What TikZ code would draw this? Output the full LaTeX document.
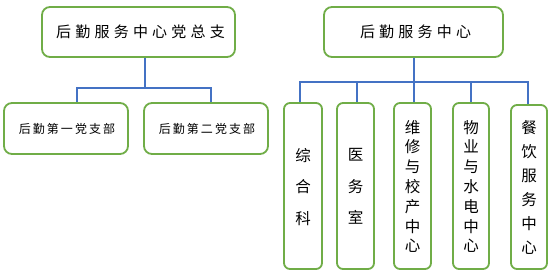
\documentclass[tikz,border=0pt]{standalone}
\usepackage{fontspec}
\newfontfamily\cjk{Noto Sans CJK SC}
\newfontfamily\cjkw[LetterSpace=28]{Noto Sans CJK SC}
\newfontfamily\cjkm[LetterSpace=17]{Noto Sans CJK SC}
\definecolor{boxgreen}{RGB}{112,173,71}
\definecolor{busblue}{RGB}{68,114,196}
\begin{document}
\begin{tikzpicture}[x=1pt,y=-1pt,
  box/.style={draw=boxgreen, line width=1.8pt, rounded corners=8pt, fill=white, inner sep=0pt, text=black},
  topbox/.style={box, font=\cjkw\fontsize{15}{18}\selectfont},
  subbox/.style={box, font=\cjkm\fontsize{12}{14}\selectfont, minimum width=124pt, minimum height=51pt},
  tallbox/.style={box, rounded corners=6pt, align=center, text depth=0pt},
  bus/.style={draw=busblue, line width=1.5pt}]
\useasboundingbox (0,0) rectangle (553,279);
\fill[white] (0,0) rectangle (553,279);
% left part
\node[topbox, minimum width=193pt, minimum height=50pt] (lt) at (138.5,32) {\hspace{4pt}后勤服务中心党总支};
\node[subbox] (b1) at (66,128.5) {\hspace{2pt}后勤第一党支部};
\node[subbox] (b2) at (206,128.5) {\hspace{2pt}后勤第二党支部};
\coordinate (lj) at (145,88);
\draw[bus] (lj |- lt.south) -- (lj);
\draw[bus] ([xshift=11pt]b1.north) |- (lj) -| ([xshift=5pt]b2.north);
% right part
\node[topbox, minimum width=179pt, minimum height=50pt] (rt) at (413.5,32) {\hspace{4pt}后勤服务中心};
\node[tallbox, minimum width=38pt, minimum height=166pt, font=\cjk\fontsize{15.5}{31.5}\selectfont] (c1) at (303,186) {综\\合\\科};
\node[tallbox, minimum width=37pt, minimum height=166pt, font=\cjk\fontsize{15.5}{31.5}\selectfont] (c2) at (355.5,186) {医\\务\\室};
\node[tallbox, minimum width=37pt, minimum height=166pt, font=\cjk\fontsize{15.5}{19.8}\selectfont] (c3) at (412.5,186) {维\\修\\与\\校\\产\\中\\心};
\node[tallbox, minimum width=36pt, minimum height=166pt, font=\cjk\fontsize{15.5}{19.8}\selectfont] (c4) at (471,186) {物\\业\\与\\水\\电\\中\\心};
\node[tallbox, minimum width=36pt, minimum height=164pt, font=\cjk\fontsize{15.5}{24}\selectfont] (c5) at (529,187) {餐\\饮\\服\\务\\中\\心};
\coordinate (rj) at (414,82);
\draw[bus] (rj |- rt.south) -- (rj);
\draw[bus] ([xshift=-3pt]c1.north) |- (rj) -| ([xshift=-1pt]c5.north);
\draw[bus] (rj) -| ([xshift=1.5pt]c2.north);
\draw[bus] (rj) -- (rj |- c3.north);
\draw[bus] (rj) -| (c4.north);
\end{tikzpicture}
\end{document}
